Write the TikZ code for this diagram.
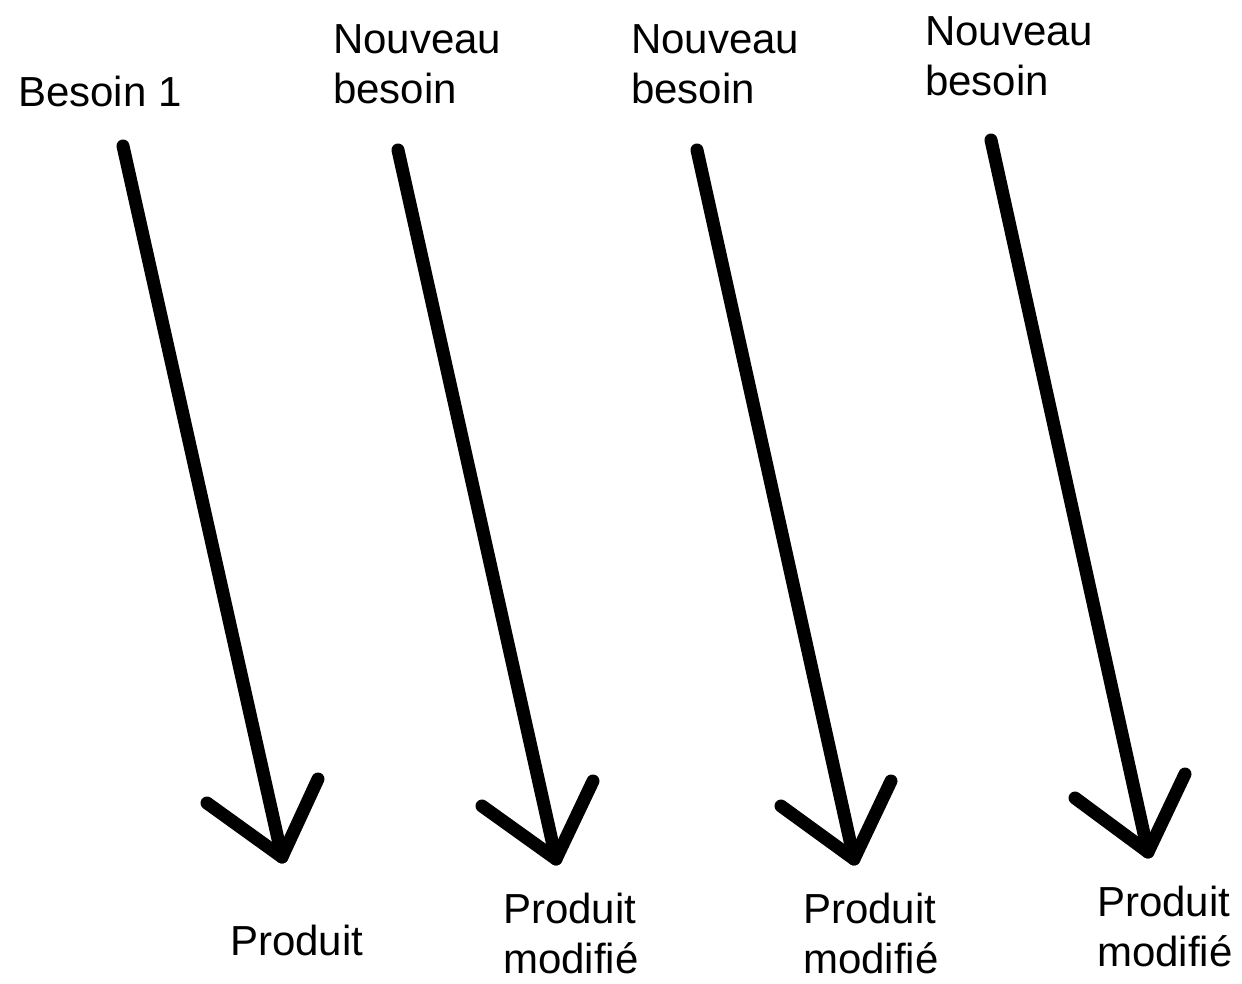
\documentclass[tikz,border=0pt]{standalone}
\usepackage{fontspec}
\setmainfont{Liberation Sans}
\begin{document}
\begin{tikzpicture}[x=1pt,y=-1pt,
  lbl/.style={anchor=base west,inner sep=0pt,align=left,font=\fontsize{42}{50}\selectfont},
  shaft/.style={line width=13pt,line cap=round,line join=round}]
\useasboundingbox (0,0) rectangle (1242,983);
% labels top (anchor = baseline of last line)
\node[lbl] (t1) at (18,106) {Besoin 1};
\node[lbl] (t2) at (333,103) {Nouveau\\besoin};
\node[lbl] (t3) at (631,103) {Nouveau\\besoin};
\node[lbl] (t4) at (925,95) {Nouveau\\besoin};
% labels bottom
\node[lbl] (b1) at (230,955) {Produit};
\node[lbl] (b2) at (503,973) {Produit\\modifié};
\node[lbl] (b3) at (803,973) {Produit\\modifié};
\node[lbl] (b4) at (1097,966) {Produit\\modifié};
% arrows
\coordinate (s1) at (123,146); \coordinate (e1) at (282,857);
\coordinate (l1) at (207,803); \coordinate (r1) at (318,779);
\coordinate (s2) at (398,150); \coordinate (e2) at (556,859);
\coordinate (l2) at (482,806); \coordinate (r2) at (593,781);
\coordinate (s3) at (697,150); \coordinate (e3) at (854,859);
\coordinate (l3) at (781,806); \coordinate (r3) at (891,781);
\coordinate (s4) at (991,140); \coordinate (e4) at (1148,852);
\coordinate (l4) at (1075,798); \coordinate (r4) at (1185,774);
\foreach \i in {1,2,3,4}{
  \draw[shaft] (s\i) -- (e\i);
  \draw[shaft] (l\i) -- (e\i) -- (r\i);
}
\end{tikzpicture}
\end{document}
